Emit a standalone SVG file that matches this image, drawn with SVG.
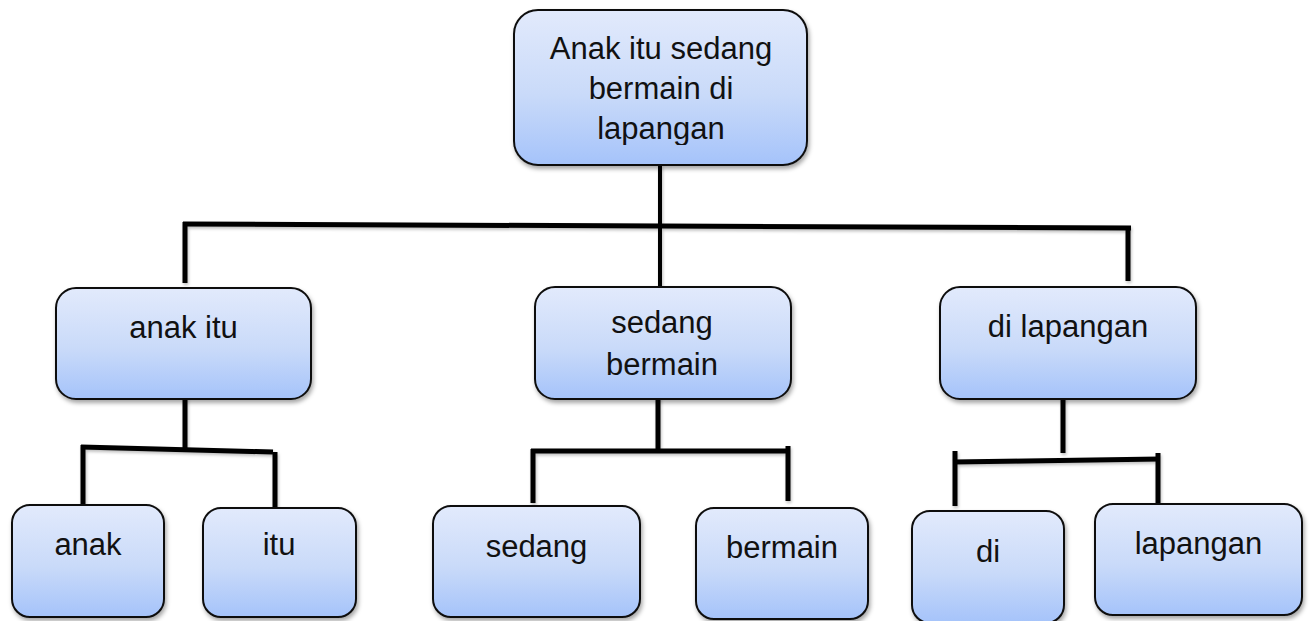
<svg xmlns="http://www.w3.org/2000/svg" width="1310" height="621" viewBox="0 0 1310 621">
  <defs>
    <linearGradient id="boxFill" x1="0" y1="0" x2="0" y2="1">
      <stop offset="0" stop-color="#e2eafc"/>
      <stop offset="0.55" stop-color="#c9daf9"/>
      <stop offset="1" stop-color="#a5c3fa"/>
    </linearGradient>
    <filter id="shadow" x="-10%" y="-10%" width="125%" height="130%">
      <feDropShadow dx="1.5" dy="3" stdDeviation="2" flood-color="#000" flood-opacity="0.35"/>
    </filter>
    <filter id="lineShadow" x="-10%" y="-10%" width="120%" height="140%">
      <feDropShadow dx="1" dy="2" stdDeviation="1.5" flood-color="#000" flood-opacity="0.25"/>
    </filter>
    <clipPath id="rootTextClip">
      <rect x="514" y="10" width="293" height="135"/>
    </clipPath>
  </defs>
  <style>
    .box { fill: url(#boxFill); stroke: #111; stroke-width: 2; filter: url(#shadow); }
    .label { font-family: "Liberation Sans", Arial, sans-serif; font-size: 31px; fill: #111; text-anchor: middle; }
    .link { stroke: #000; stroke-width: 5; fill: none; stroke-linecap: butt; }
    .thin { stroke-width: 4; }
  </style>

  <!-- connectors -->
  <g id="connectors" filter="url(#lineShadow)">
    <!-- root to level 1 -->
    <line class="link thin" x1="660" y1="165" x2="660" y2="288"/>
    <line class="link" x1="183" y1="224" x2="1131" y2="228"/>
    <line class="link" x1="185" y1="222" x2="185" y2="283"/>
    <line class="link" x1="1128" y1="226" x2="1128" y2="281"/>
    <!-- anak itu -->
    <line class="link" x1="185" y1="396" x2="185" y2="449"/>
    <line class="link" x1="81" y1="447" x2="273" y2="452"/>
    <line class="link" x1="83" y1="445" x2="83" y2="505"/>
    <line class="link" x1="275" y1="452" x2="275" y2="510"/>
    <!-- sedang bermain -->
    <line class="link" x1="658" y1="397" x2="658" y2="449"/>
    <line class="link" x1="531" y1="451" x2="790" y2="451"/>
    <line class="link" x1="533" y1="449" x2="533" y2="503"/>
    <line class="link" x1="788" y1="446" x2="788" y2="501"/>
    <!-- di lapangan -->
    <line class="link" x1="1063" y1="397" x2="1063" y2="453"/>
    <line class="link" x1="953" y1="462" x2="1160" y2="459"/>
    <line class="link" x1="955" y1="451" x2="955" y2="506"/>
    <line class="link" x1="1158" y1="453" x2="1158" y2="503"/>
  </g>

  <!-- root -->
  <g id="node-root">
    <rect class="box" x="514" y="10" width="293" height="155" rx="24"/>
    <g clip-path="url(#rootTextClip)">
      <text class="label" x="661" y="59">Anak itu sedang</text>
      <text class="label" x="661" y="99">bermain di</text>
      <text class="label" x="661" y="139">lapangan</text>
    </g>
  </g>

  <!-- level 1 -->
  <g id="node-anak-itu">
    <rect class="box" x="56" y="288" width="255" height="111" rx="20"/>
    <text class="label" x="183.5" y="338">anak itu</text>
  </g>
  <g id="node-sedang-bermain">
    <rect class="box" x="535" y="287" width="256" height="112" rx="20"/>
    <text class="label" x="662" y="333">sedang</text>
    <text class="label" x="662" y="375">bermain</text>
  </g>
  <g id="node-di-lapangan">
    <rect class="box" x="940" y="287" width="256" height="112" rx="20"/>
    <text class="label" x="1068" y="337">di lapangan</text>
  </g>

  <!-- level 2 -->
  <g id="node-anak">
    <rect class="box" x="12" y="505" width="152" height="112" rx="18"/>
    <text class="label" x="88" y="555">anak</text>
  </g>
  <g id="node-itu">
    <rect class="box" x="203" y="508" width="153" height="109" rx="18"/>
    <text class="label" x="279" y="555">itu</text>
  </g>
  <g id="node-sedang">
    <rect class="box" x="433" y="506" width="207" height="111" rx="18"/>
    <text class="label" x="536.5" y="557">sedang</text>
  </g>
  <g id="node-bermain">
    <rect class="box" x="696" y="508" width="172" height="111" rx="18"/>
    <text class="label" x="782" y="558">bermain</text>
  </g>
  <g id="node-di">
    <rect class="box" x="912" y="511" width="152" height="112" rx="18"/>
    <text class="label" x="988" y="562">di</text>
  </g>
  <g id="node-lapangan">
    <rect class="box" x="1095" y="504" width="207" height="111" rx="18"/>
    <text class="label" x="1198.5" y="554">lapangan</text>
  </g>
</svg>
